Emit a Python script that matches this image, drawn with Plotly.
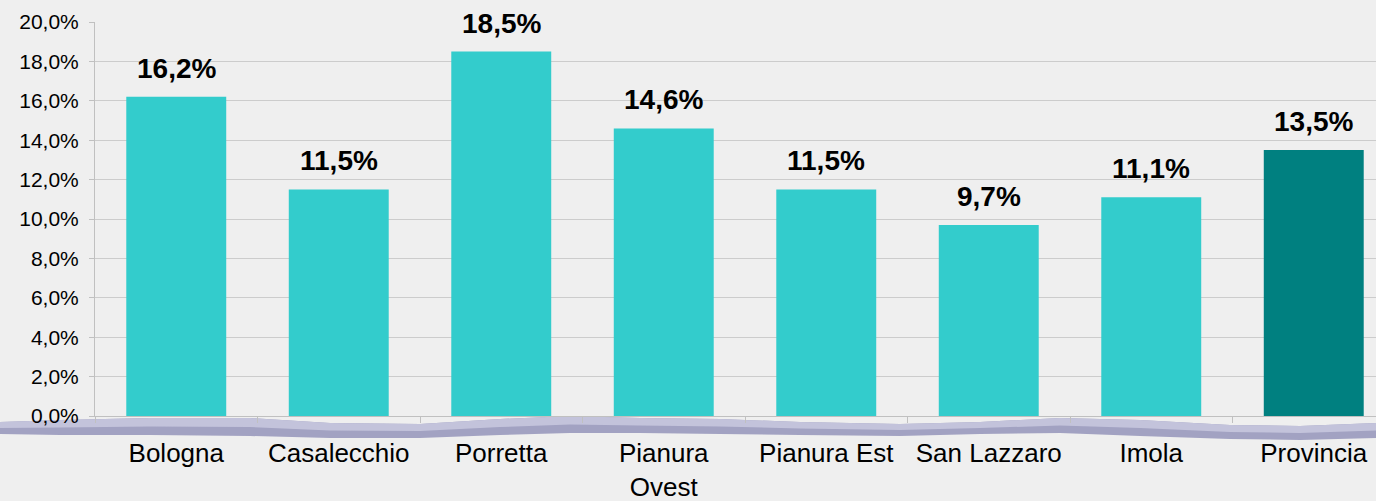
import plotly.graph_objects as go

# dati
zone = ["Bologna", "Casalecchio", "Porretta", "Pianura<br>Ovest", "Pianura Est",
        "San Lazzaro", "Imola", "Provincia"]
valori = [16.2, 11.5, 18.5, 14.6, 11.5, 9.7, 11.1, 13.5]
colori = ["#33CCCC"] * 7 + ["#008080"]

W, H = 1376, 501
L, R, T, B = 95, 0, 22, 85
PW, PH = W - L - R, H - T - B
SFONDO = "#efefef"


def px(x, y):
    # pixel -> paper coords
    return (x - L) / PW, (H - B - y) / PH


def band_path(pts):
    s = ""
    for i, (x, y) in enumerate(pts):
        a, b = px(x, y)
        s += ("M" if i == 0 else "L") + f"{a:.4f},{b:.4f} "
    return s + "Z"


# onda decorativa sotto l'asse
top = [(0, 422), (60, 420), (150, 418), (250, 418), (330, 423), (420, 424), (500, 419),
       (570, 416), (640, 418), (720, 419), (800, 422), (900, 424), (980, 422), (1060, 418),
       (1140, 420), (1230, 425), (1300, 426), (1376, 423)]
bot = [(1376, 438), (1300, 440), (1230, 439), (1140, 436), (1060, 433), (980, 434),
       (900, 436), (800, 435), (720, 434), (640, 433), (570, 433), (500, 435), (420, 438),
       (330, 438), (250, 436), (150, 435), (60, 435), (0, 434)]
mid = [(x, y + (yb - y) * 0.5) for (x, y), (_, yb) in zip(top, reversed(bot))]

fig = go.Figure()
fig.add_trace(go.Bar(
    x=zone, y=valori, marker_color=colori, marker_line_width=0,
    hoverinfo="skip",
))

for z, v in zip(zone, valori):
    fig.add_annotation(
        x=z, y=v, text="<b>" + f"{v:.1f}".replace(".", ",") + "%</b>",
        showarrow=False, yanchor="bottom", yshift=11,
        font=dict(family="Liberation Sans, Arial", size=28, color="black"),
    )

fig.update_layout(
    width=W, height=H,
    margin=dict(l=L, r=R, t=T, b=B),
    paper_bgcolor=SFONDO, plot_bgcolor="rgba(0,0,0,0)",
    separators=",.",
    bargap=0.385,
    showlegend=False,
    shapes=[
        dict(type="path", xref="paper", yref="paper", path=band_path(top + bot),
             fillcolor="#a2a2c2", line_width=0, layer="below"),
        dict(type="path", xref="paper", yref="paper", path=band_path(top + mid[::-1]),
             fillcolor="#c3c3db", line_width=0, layer="below"),
    ],
)
fig.update_xaxes(
    range=[-0.5, -0.5 + PW / 162.5], automargin=False,
    showline=True, linecolor="#c0c0c0", linewidth=1,
    ticks="outside", tickson="boundaries", ticklen=6, tickcolor="#c0c0c0",
    ticklabelstandoff=14,
    tickfont=dict(family="Liberation Sans, Arial", size=26, color="black"),
    showgrid=False,
)
fig.update_yaxes(
    range=[0, 20], dtick=2, tickformat=".1f", ticksuffix="%", automargin=False,
    showline=True, linecolor="#c0c0c0", linewidth=1,
    ticks="outside", ticklen=5, tickcolor="#c0c0c0",
    showgrid=True, gridcolor="#cccccc", gridwidth=1,
    ticklabelstandoff=6,
    tickfont=dict(family="Liberation Sans, Arial", size=21, color="black"),
    zeroline=False,
)

fig.write_html(
    "out.html",
    config={"displayModeBar": False},
    post_script=f"document.body.style.margin='0';document.body.style.background='{SFONDO}';",
)
